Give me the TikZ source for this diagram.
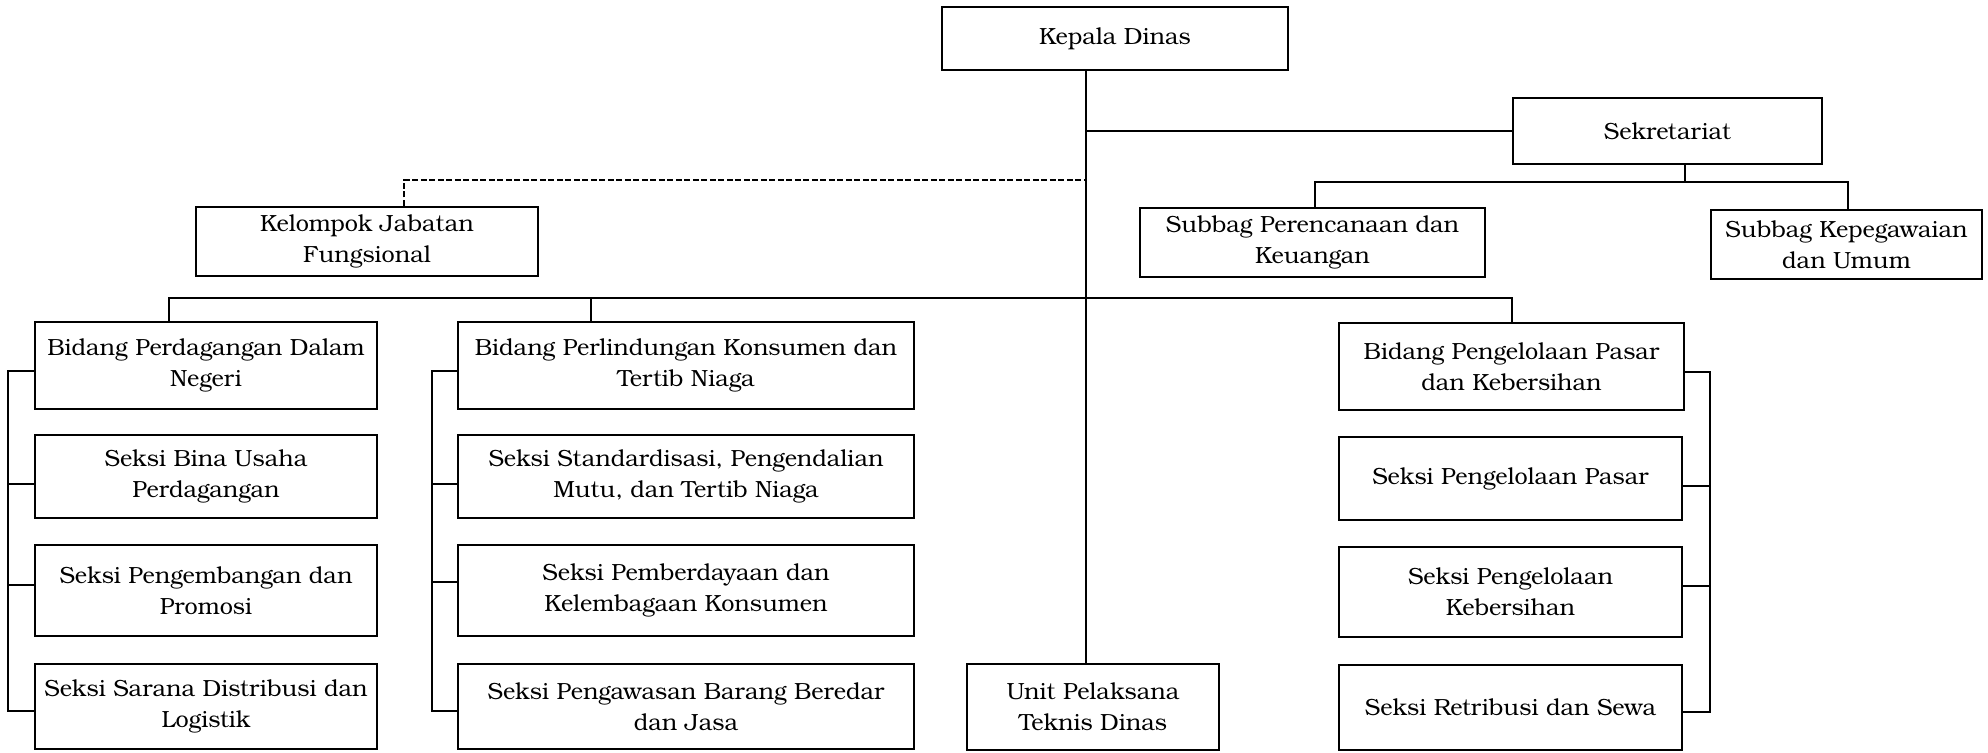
\documentclass[tikz,border=0pt]{standalone}
\usepackage{fontspec}
\setmainfont{texgyrebonum}[Extension=.otf, UprightFont=*-regular, BoldFont=*-bold]
\begin{document}
\begin{tikzpicture}[x=1pt,y=-1pt,
  box/.style={draw, line width=2.5pt, align=center, inner sep=0pt, font=\fontsize{23.4}{31}\selectfont},
  conn/.style={line width=2.3pt},
  dconn/.style={line width=2.2pt, dash pattern=on 6pt off 2.5pt}]
\useasboundingbox[fill=white] (0,0) rectangle (1988,752);
% top
\node[box, minimum width=346, minimum height=63] (kd) at (1115,38.5) {Kepala Dinas};
\node[box, minimum width=309, minimum height=66] (sek) at (1667.5,131) {Sekretariat};
\node[box, minimum width=342, minimum height=69] (kjf) at (367,241.5) {Kelompok Jabatan\\Fungsional};
\node[box, minimum width=345, minimum height=69] (spk) at (1312.5,242.5) {Subbag Perencanaan dan\\Keuangan};
\node[box, minimum width=271, minimum height=69] (sku) at (1846.5,244.5) {Subbag Kepegawaian\\dan Umum};
% bidang 1
\node[box, minimum width=342, minimum height=87] (b1) at (206,365.5) {Bidang Perdagangan Dalam\\Negeri};
\node[box, minimum width=342, minimum height=83] (b1s1) at (206,476.5) {Seksi Bina Usaha\\Perdagangan};
\node[box, minimum width=342, minimum height=91] (b1s2) at (206,590.5) {Seksi Pengembangan dan\\Promosi};
\node[box, minimum width=342, minimum height=85] (b1s3) at (206,706.5) {Seksi Sarana Distribusi dan\\Logistik};
% bidang 2
\node[box, minimum width=456, minimum height=87] (b2) at (686,365.5) {Bidang Perlindungan Konsumen dan\\Tertib Niaga};
\node[box, minimum width=456, minimum height=83] (b2s1) at (686,476.5) {Seksi Standardisasi, Pengendalian\\Mutu, dan Tertib Niaga};
\node[box, minimum width=456, minimum height=91] (b2s2) at (686,590.5) {Seksi Pemberdayaan dan\\Kelembagaan Konsumen};
\node[box, minimum width=456, minimum height=85] (b2s3) at (686,706.5) {Seksi Pengawasan Barang Beredar\\dan Jasa};
% UPT
\node[box, minimum width=252, minimum height=86] (upt) at (1093,707) {Unit Pelaksana\\Teknis Dinas};
% bidang 3
\node[box, minimum width=345, minimum height=87] (b3) at (1511.5,366.5) {Bidang Pengelolaan Pasar\\dan Kebersihan};
\node[box, minimum width=343, minimum height=83] (b3s1) at (1510.5,478.5) {Seksi Pengelolaan Pasar};
\node[box, minimum width=343, minimum height=90] (b3s2) at (1510.5,592) {Seksi Pengelolaan\\Kebersihan};
\node[box, minimum width=343, minimum height=85] (b3s3) at (1510.5,707.5) {Seksi Retribusi dan Sewa};
% helper coordinates
\coordinate (mx) at (1086,0);
\coordinate (sbus) at (1685,182);
\coordinate (spkx) at (1315,0);
\coordinate (skux) at (1848,0);
\coordinate (kjfx) at (404,180);
\coordinate (bbus) at (0,298);
\coordinate (b1x) at (169,0);
\coordinate (b2x) at (591,0);
\coordinate (b3x) at (1512,0);
\coordinate (lb1) at (8,0);
\coordinate (lb2) at (432,0);
\coordinate (rb3) at (1710,0);
\coordinate (b1a) at ([yshift=-5.5pt]b1.west);
\coordinate (b1b) at ([yshift=-7.5pt]b1s1.west);
\coordinate (b1c) at ([yshift=5.5pt]b1s2.west);
\coordinate (b1d) at ([yshift=-4.5pt]b1s3.west);
\coordinate (b2a) at ([yshift=-5.5pt]b2.west);
\coordinate (b2b) at ([yshift=-7.5pt]b2s1.west);
\coordinate (b2c) at ([yshift=8.5pt]b2s2.west);
\coordinate (b2d) at ([yshift=-4.5pt]b2s3.west);
\coordinate (b3a) at ([yshift=-5.5pt]b3.east);
\coordinate (b3b) at ([yshift=-7.5pt]b3s1.east);
\coordinate (b3c) at ([yshift=6pt]b3s2.east);
\coordinate (b3d) at ([yshift=-4.5pt]b3s3.east);
% connectors
\draw[conn] (kd.south -| mx) -- (upt.north -| mx);
\draw[conn] (sek.west) -- (sek.west -| mx);
\draw[conn] (sek.south -| sbus) -- (sbus);
\draw[conn] (spk.north -| spkx) |- (sbus) -| (sku.north -| skux);
\draw[dconn] (kjf.north -| kjfx) |- (mx |- kjfx);
\draw[conn] (b1.north -| b1x) |- (bbus -| b3x) -- (b3.north -| b3x);
\draw[conn] (b2.north -| b2x) -- (bbus -| b2x);
% brackets
\draw[conn] (b1a) -| (lb1 |- b1d) -- (b1d);
\draw[conn] (b1b) -- (lb1 |- b1b);
\draw[conn] (b1c) -- (lb1 |- b1c);
\draw[conn] (b2a) -| (lb2 |- b2d) -- (b2d);
\draw[conn] (b2b) -- (lb2 |- b2b);
\draw[conn] (b2c) -- (lb2 |- b2c);
\draw[conn] (b3a) -| (rb3 |- b3d) -- (b3d);
\draw[conn] (b3b) -- (rb3 |- b3b);
\draw[conn] (b3c) -- (rb3 |- b3c);
\end{tikzpicture}
\end{document}
